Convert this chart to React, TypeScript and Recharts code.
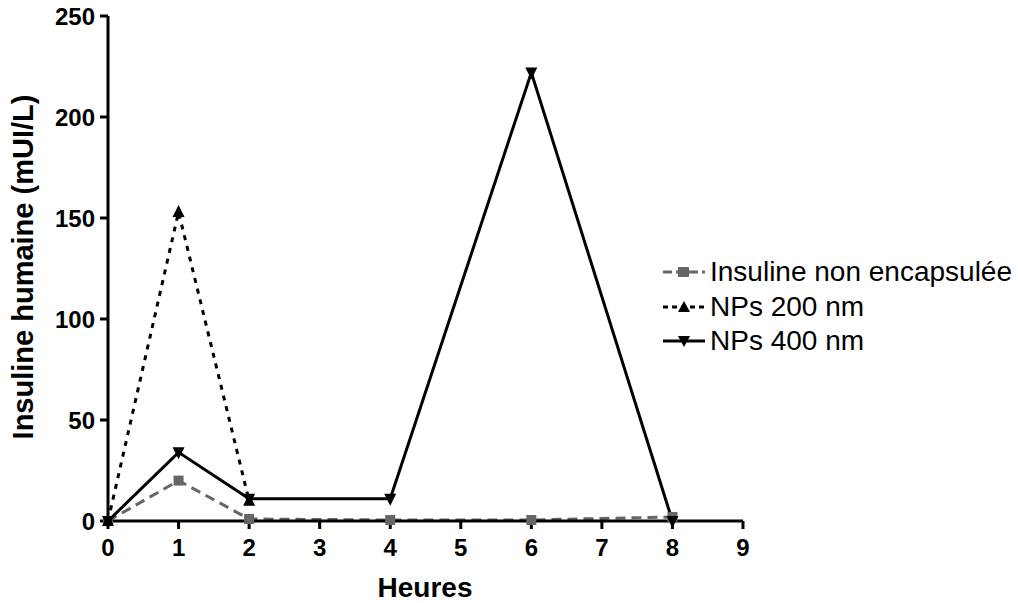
import { LineChart, Line, XAxis, YAxis } from 'recharts';

const hours = [0, 1, 2, 4, 6, 8];
const freeInsulin = [0, 20, 1, 0.5, 0.5, 2];
const nps200 = [0, 153, 10, null, null, null];
const nps400 = [0, 34, 11, 11, 222, 0];
const xTicks = [0, 1, 2, 3, 4, 5, 6, 7, 8, 9];
const yTicks = [0, 50, 100, 150, 200, 250];

const data = hours.map((h, i) => ({
  h,
  free: freeInsulin[i],
  n200: nps200[i],
  n400: nps400[i],
}));

const FONT = '"Liberation Sans", Arial, sans-serif';

const Square = (p: any) => {
  if (p.cx == null || p.cy == null) return null;
  return <rect key={p.key} x={p.cx - 5} y={p.cy - 5} width={10} height={10} fill="#666" />;
};
const TriUp = (p: any) => {
  if (p.cx == null || p.cy == null) return null;
  const { cx, cy } = p;
  return <path key={p.key} d={`M${cx},${cy - 7} L${cx + 6},${cy + 5} L${cx - 6},${cy + 5} Z`} fill="#000" />;
};
const TriDown = (p: any) => {
  if (p.cx == null || p.cy == null) return null;
  const { cx, cy } = p;
  return <path key={p.key} d={`M${cx - 6},${cy - 5} L${cx + 6},${cy - 5} L${cx},${cy + 7} Z`} fill="#000" />;
};

const legendItems = [
  { name: 'Insuline non encapsulée', color: '#666', dash: '9 4', shape: 'sq' },
  { name: 'NPs 200 nm', color: '#000', dash: '5 4', shape: 'up' },
  { name: 'NPs 400 nm', color: '#000', dash: undefined, shape: 'down' },
];

function LegendBox() {
  return (
    <div style={{ position: 'absolute', left: 661, top: 255, fontFamily: FONT, fontSize: 28, color: '#000' }}>
      {legendItems.map((it) => (
        <div key={it.name} style={{ display: 'flex', alignItems: 'center', height: 34.5, whiteSpace: 'nowrap' }}>
          <svg width={46} height={20} style={{ marginRight: 3 }}>
            <line x1={2} y1={10} x2={44} y2={10} stroke={it.color} strokeWidth={3} strokeDasharray={it.dash} />
            {it.shape === 'sq' && <rect x={17} y={5} width={11} height={10} fill={it.color} />}
            {it.shape === 'up' && <path d="M23,4 L29,15 L17,15 Z" fill="#000" />}
            {it.shape === 'down' && <path d="M17,5 L29,5 L23,16 Z" fill="#000" />}
          </svg>
          <span>{it.name}</span>
        </div>
      ))}
    </div>
  );
}

export default function App() {
  const tickStyle = { fontSize: 24, fontWeight: 700, fill: '#000', fontFamily: FONT };
  return (
    <div style={{ position: 'absolute', left: 0, top: 0, width: 1018, height: 603, background: '#fff' }}>
      <LineChart width={1018} height={603} data={data} margin={{ top: 16, right: 275, bottom: 32, left: 48 }}>
        <XAxis
          dataKey="h"
          type="number"
          domain={[0, 9]}
          ticks={xTicks}
          interval={0}
          height={50}
          stroke="#000"
          strokeWidth={3}
          tickSize={8}
          tickMargin={10}
          tick={tickStyle}
          label={() => (
            <text x={425} y={597} textAnchor="middle" fontFamily={FONT} fontSize={28} fontWeight={700} fill="#000">
              Heures
            </text>
          )}
        />
        <YAxis
          type="number"
          domain={[0, 250]}
          ticks={yTicks}
          interval={0}
          width={60}
          stroke="#000"
          strokeWidth={3}
          tickSize={8}
          tickMargin={5}
          tick={tickStyle}
          label={() => (
            <text
              x={33}
              y={267}
              transform="rotate(-90 33 267)"
              textAnchor="middle"
              fontFamily={FONT}
              fontSize={29}
              fontWeight={700}
              fill="#000"
            >
              Insuline humaine (mUI/L)
            </text>
          )}
        />
        <Line
          dataKey="free"
          name="Insuline non encapsulée"
          stroke="#666"
          strokeWidth={3}
          strokeDasharray="10 6"
          dot={Square}
          activeDot={false}
          isAnimationActive={false}
        />
        <Line
          dataKey="n200"
          name="NPs 200 nm"
          stroke="#000"
          strokeWidth={3}
          strokeDasharray="5 6"
          dot={TriUp}
          activeDot={false}
          connectNulls={false}
          isAnimationActive={false}
        />
        <Line
          dataKey="n400"
          name="NPs 400 nm"
          stroke="#000"
          strokeWidth={3}
          dot={TriDown}
          activeDot={false}
          isAnimationActive={false}
        />
      </LineChart>
      <LegendBox />
    </div>
  );
}
